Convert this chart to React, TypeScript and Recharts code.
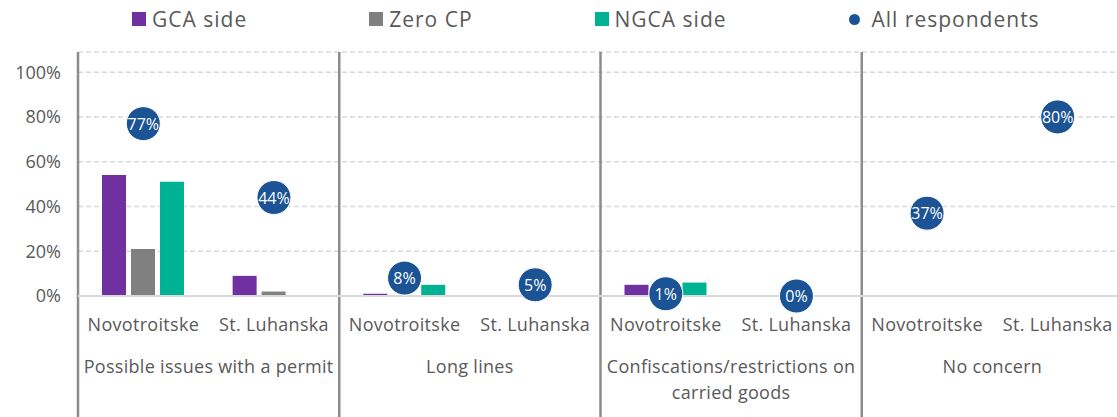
import React from "react"
import { ComposedChart, Bar, Scatter, XAxis, YAxis, CartesianGrid, Legend, ReferenceLine } from "recharts"

const places = ["Novotroitske", "St. Luhanska"]
const concerns = ["Possible issues with a permit", "Long lines", "Confiscations/restrictions on carried goods", "No concern"]
const seriesNames = ["GCA side", "Zero CP", "NGCA side", "All respondents"]
const gcaSide = [54, 9, 1, 0.3, 5, null, null, null]
const zeroCp = [21, 2, 0, 0, 0, null, null, null]
const ngcaSide = [51, 0.4, 5, 0, 6, null, null, null]
const allRespondents = [77, 44, 8, 5, 1, 0, 37, 80]
const yTicks = [0, 20, 40, 60, 80, 100]

const data = concerns.flatMap((c, g) =>
  places.map((p, i) => {
    const k = g * 2 + i
    return { key: `${g}|${p}`, gca: gcaSide[k], zero: zeroCp[k], ngca: ngcaSide[k], all: allRespondents[k] }
  })
)
const groupStarts = concerns.map((c, g) => `${g}|${places[0]}`)

const TEXT = "#595959"

function wrap(s: string, max = 30) {
  const out: string[] = []
  let cur = ""
  for (const w of s.split(" ")) {
    if (cur && (cur + " " + w).length > max) {
      out.push(cur)
      cur = w
    } else cur = cur ? cur + " " + w : w
  }
  if (cur) out.push(cur)
  return out
}

// group label sits on the border between the two places of a concern
function GroupTick({ x, y, payload }: any) {
  const [g, p] = String(payload.value).split("|")
  if (p !== places[0]) return <g />
  const cx = x + (payload.offset || 0)
  const lines = wrap(concerns[Number(g)])
  return (
    <text x={cx} y={y} textAnchor="middle" fill={TEXT} fontSize={18} letterSpacing={0.3}>
      {lines.map((l, i) => (
        <tspan key={i} x={cx} dy={i === 0 ? 27 : 26}>
          {l}
        </tspan>
      ))}
    </text>
  )
}

function Dot({ cx, cy, payload }: any) {
  return (
    <g>
      <circle cx={cx} cy={cy} r={17} fill="#1B5394" stroke="#fff" strokeWidth={1} />
      <text x={cx} y={cy} dy={6} textAnchor="middle" fill="#fff" fontSize={16}>
        {payload.all}%
      </text>
    </g>
  )
}

function LegendContent({ payload }: any) {
  const items = [...(payload || [])].sort((a: any, b: any) => seriesNames.indexOf(a.value) - seriesNames.indexOf(b.value))
  return (
    <div style={{ display: "flex", alignItems: "center", height: 38, paddingLeft: 132, fontSize: 21, letterSpacing: 1, color: TEXT, whiteSpace: "nowrap" }}>
      {items.map((e: any) => (
        <div key={e.value} style={{ display: "flex", alignItems: "center", marginRight: 122, flexShrink: 0 }}>
          {e.type === "circle" ? (
            <span style={{ width: 11, height: 11, borderRadius: 6, background: e.color, marginRight: 12, flexShrink: 0 }} />
          ) : (
            <span style={{ width: 14, height: 14, background: e.color, marginRight: 6, flexShrink: 0 }} />
          )}
          <span>{e.value}</span>
        </div>
      ))}
    </div>
  )
}

export default function App() {
  return (
    <div style={{ position: "absolute", left: 0, top: 0, width: 1117, height: 417, overflow: "hidden", background: "#fff", fontFamily: "'Open Sans', sans-serif" }}>
      <ComposedChart width={1125} height={417} data={data} margin={{ top: 14, right: 2, left: 0, bottom: 0 }} barSize={24} barGap={5}>
        <CartesianGrid vertical={false} stroke="#d9d9d9" strokeWidth={1.5} strokeDasharray="5 3" />
        <XAxis
          dataKey="key"
          interval={0}
          height={50}
          tickLine={false}
          tickMargin={16}
          axisLine={{ stroke: "#d9d9d9", strokeWidth: 2 }}
          tick={{ fill: TEXT, fontSize: 18, letterSpacing: 0.3 }}
          tickFormatter={(v: string) => v.split("|")[1]}
        />
        <XAxis
          xAxisId="grp"
          dataKey="key"
          interval={0}
          height={71}
          axisLine={false}
          tickLine={false}
          tickSize={0}
          tickMargin={0}
          tick={<GroupTick />}
        />
        <YAxis
          domain={[0, 109]}
          ticks={yTicks}
          width={78}
          axisLine={false}
          tickLine={false}
          tickMargin={11}
          tick={{ fill: TEXT, fontSize: 18 }}
          tickFormatter={(v: number) => `${v}%`}
        />
        {groupStarts.map((x) => (
          <ReferenceLine
            key={x}
            position="start"
            ifOverflow="visible"
            segment={[{ x, y: -54 }, { x, y: 109 }]}
            stroke="#8c8c8c"
            strokeWidth={2.5}
          />
        ))}
        <Bar dataKey="gca" name="GCA side" fill="#7030A0" isAnimationActive={false} />
        <Bar dataKey="zero" name="Zero CP" fill="#808080" isAnimationActive={false} />
        <Bar dataKey="ngca" name="NGCA side" fill="#00B294" isAnimationActive={false} />
        <Scatter dataKey="all" name="All respondents" fill="#1B5394" legendType="circle" shape={<Dot />} isAnimationActive={false} />
        <Legend verticalAlign="top" align="left" content={<LegendContent />} wrapperStyle={{ top: 0, left: 0, width: "100%", height: 38 }} />
      </ComposedChart>
    </div>
  )
}
